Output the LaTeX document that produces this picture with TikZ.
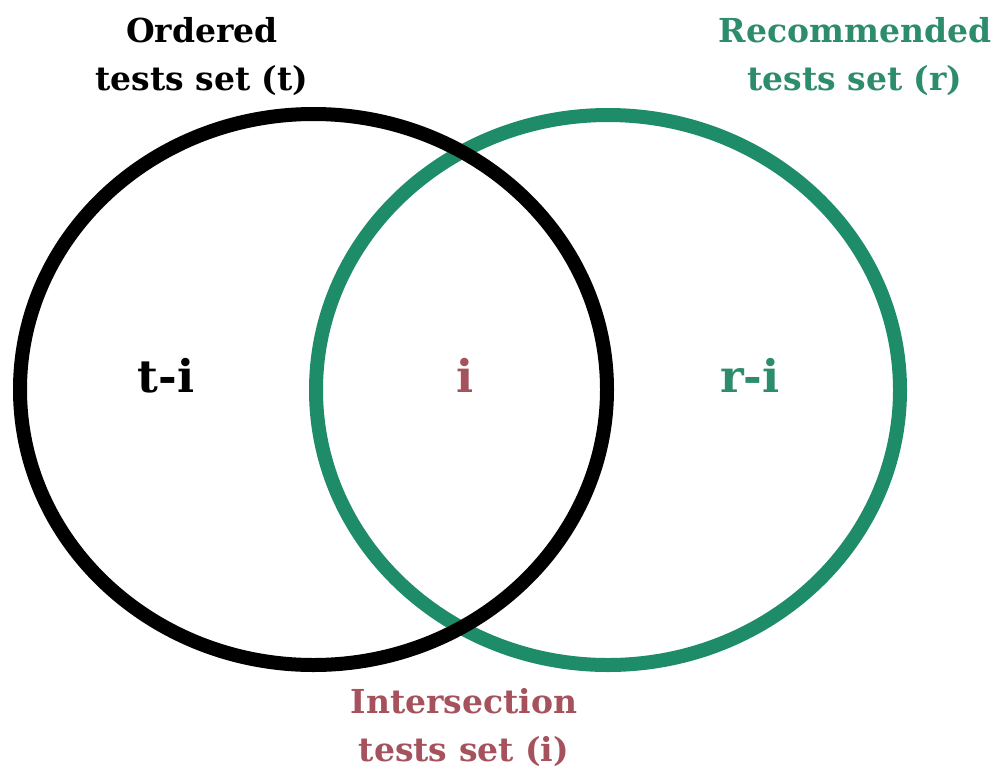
\documentclass[tikz,border=0pt]{standalone}
\usepackage{fontspec}
\setmainfont{DejaVu Serif}
\definecolor{rgreen}{RGB}{30,140,104}
\definecolor{tgreen}{RGB}{45,140,108}
\definecolor{ired}{RGB}{165,82,92}
\tikzset{
  setline/.style={line width=14pt},
  lbl/.style={font=\fontsize{33}{48}\selectfont\bfseries, align=center, anchor=base, inner sep=0pt},
  big/.style={font=\fontsize{45}{50}\selectfont\bfseries, anchor=base, inner sep=0pt}
}
\begin{document}
\begin{tikzpicture}[x=1pt,y=-1pt]
\useasboundingbox (0,0) rectangle (1004,774);
\fill[white] (0,0) rectangle (1004,774);
\draw[setline, rgreen] (608,390) ellipse [x radius=292, y radius=275];
\draw[setline, black] (313.5,389.5) ellipse [x radius=293.5, y radius=275.5];
\node[lbl, black] (tlab) at (202,90) {Ordered\\tests set (t)};
\node[lbl, tgreen] (rlab) at (855,90) {Recommended\\tests set (r)};
\node[lbl, ired] (ilab) at (464,761) {Intersection\\tests set (i)};
\node[big, black] (ti) at (166,392) {t-i};
\node[big, ired] (i) at (465,392) {i};
\node[big, tgreen] (ri) at (750,392) {r-i};
\end{tikzpicture}
\end{document}
